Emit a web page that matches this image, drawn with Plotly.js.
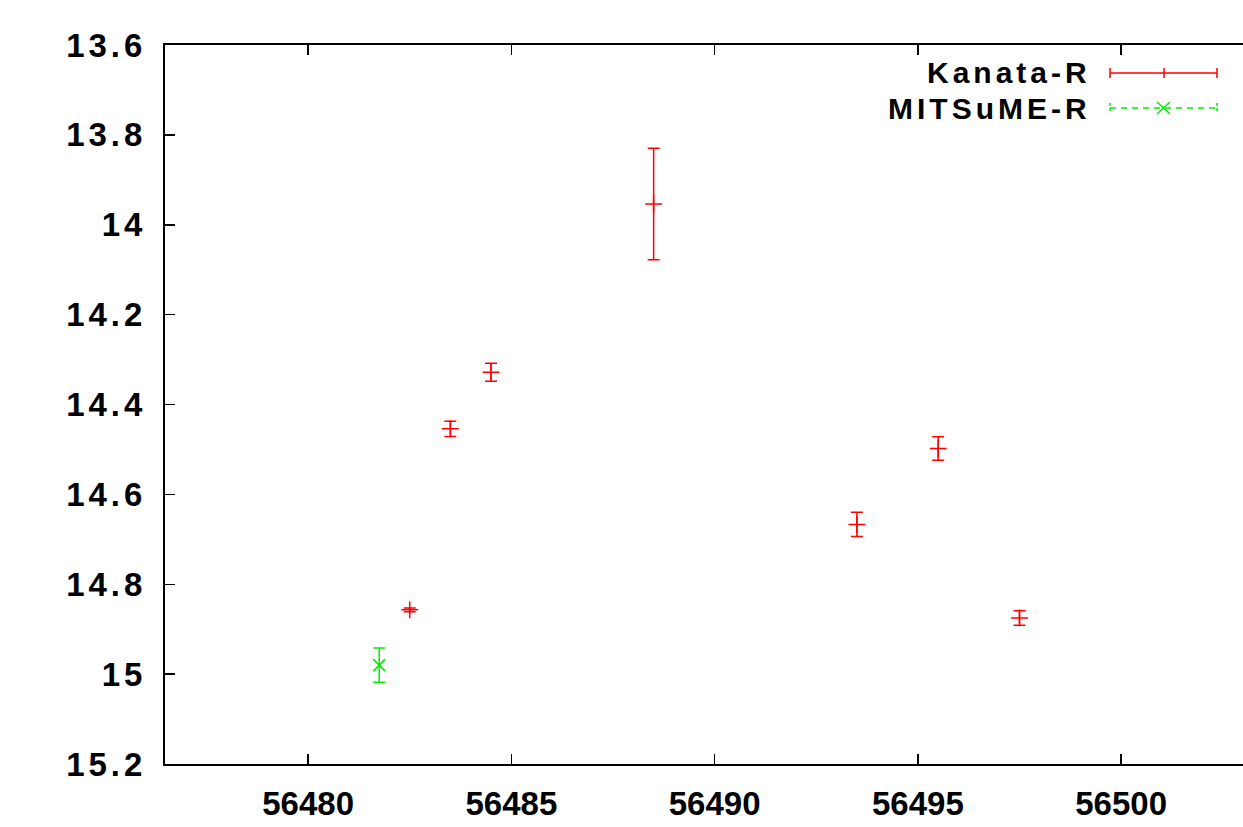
<!DOCTYPE html>
<html>
<head>
<meta charset="utf-8">
<script src="https://cdn.plot.ly/plotly-3.0.1.min.js"></script>
<style>
html,body{margin:0;padding:0;overflow:hidden;background:#fff;width:1243px;height:827px;}
#chart{width:1300px;height:827px;}
.ytick text{letter-spacing:4px;}
.annotation-text{letter-spacing:4px;}
</style>
</head>
<body>
<div id="chart"></div>
<script>
// Data
const kanataMJD = [56482.5, 56483.5, 56484.5, 56488.5, 56493.5, 56495.5, 56497.5];
const kanataMag = [14.857, 14.454, 14.328, 13.954, 14.667, 14.498, 14.875];
const kanataErr = [0.004, 0.017, 0.020, 0.124, 0.027, 0.026, 0.016];

const mitsumeMJD = [56481.75];
const mitsumeMag = [14.980];
const mitsumeErr = [0.038];

const seriesNames = ["Kanata-R", "MITSuME-R"];
const xTicks = [56480, 56485, 56490, 56495, 56500];
const yTicks = [13.6, 13.8, 14, 14.2, 14.4, 14.6, 14.8, 15, 15.2];

const RED = "#ff0000";
const GREEN = "#00ee00";
const FONT = "Liberation Sans, Arial, sans-serif";

const traces = [
  {
    x: kanataMJD, y: kanataMag, name: seriesNames[0], type: "scatter", mode: "markers",
    marker: {symbol: "cross-thin", size: 12, line: {color: RED, width: 1.5}, color: RED},
    error_y: {type: "data", array: kanataErr, visible: true, color: RED, thickness: 1.5, width: 6},
    showlegend: false, cliponaxis: false
  },
  {
    x: mitsumeMJD, y: mitsumeMag, name: seriesNames[1], type: "scatter", mode: "markers",
    marker: {symbol: "x-thin", size: 12, line: {color: GREEN, width: 1.5}, color: GREEN},
    error_y: {type: "data", array: mitsumeErr, visible: true, color: GREEN, thickness: 1.5, width: 6},
    showlegend: false, cliponaxis: false
  }
];

// legend drawn to match gnuplot style (text right, sample to the right)
const plotL = 165, plotW = 1098, plotT = 45, plotH = 719;
const px = v => (v - plotL) / plotW;
const py = v => 1 - (v - plotT) / plotH;

const shapes = [
  {type: "line", xref: "paper", yref: "paper", x0: px(1110), x1: px(1217), y0: py(73), y1: py(73), line: {color: RED, width: 1.5}},
  {type: "line", xref: "paper", yref: "paper", x0: px(1110), x1: px(1110), y0: py(68), y1: py(78), line: {color: RED, width: 1.5}},
  {type: "line", xref: "paper", yref: "paper", x0: px(1217), x1: px(1217), y0: py(68), y1: py(78), line: {color: RED, width: 1.5}},
  {type: "line", xref: "paper", yref: "paper", x0: px(1164), x1: px(1164), y0: py(68), y1: py(78), line: {color: RED, width: 1.5}},
  {type: "line", xref: "paper", yref: "paper", x0: px(1110), x1: px(1217), y0: py(108), y1: py(108), line: {color: GREEN, width: 1.5, dash: "6px,5px"}},
  {type: "line", xref: "paper", yref: "paper", x0: px(1110), x1: px(1110), y0: py(103), y1: py(113), line: {color: GREEN, width: 1.5, dash: "3px,2px"}},
  {type: "line", xref: "paper", yref: "paper", x0: px(1217), x1: px(1217), y0: py(103), y1: py(113), line: {color: GREEN, width: 1.5, dash: "3px,2px"}},
  {type: "line", xref: "paper", yref: "paper", x0: px(1157), x1: px(1170), y0: py(102), y1: py(114), line: {color: GREEN, width: 1.5}},
  {type: "line", xref: "paper", yref: "paper", x0: px(1157), x1: px(1170), y0: py(114), y1: py(102), line: {color: GREEN, width: 1.5}}
];

const annotations = [
  {xref: "paper", yref: "paper", x: px(1092), y: py(73), text: seriesNames[0], showarrow: false,
   xanchor: "right", yanchor: "middle", borderpad: 0,
   font: {family: FONT, size: 30, color: "#000", weight: "bold"}},
  {xref: "paper", yref: "paper", x: px(1092), y: py(108), text: seriesNames[1], showarrow: false,
   xanchor: "right", yanchor: "middle", borderpad: 0,
   font: {family: FONT, size: 30, color: "#000", weight: "bold"}}
];

const layout = {
  width: 1300, height: 827,
  margin: {l: 165, r: 37, t: 45, b: 63},
  paper_bgcolor: "#fff", plot_bgcolor: "#fff",
  showlegend: false,
  font: {family: FONT, size: 33, color: "#000", weight: "bold"},
  xaxis: {
    range: [56476.48, 56503.49], tickvals: xTicks, ticktext: xTicks.map(String),
    ticks: "inside", ticklen: 10, tickwidth: 1.5, tickcolor: "#000",
    showline: true, linecolor: "#000", linewidth: 2, mirror: "ticks",
    showgrid: false, zeroline: false, ticklabelstandoff: 9,
    tickfont: {family: FONT, size: 33, color: "#000", weight: "bold"}
  },
  yaxis: {
    range: [15.2, 13.6], tickvals: yTicks, ticktext: yTicks.map(v => String(v)),
    ticks: "inside", ticklen: 10, tickwidth: 1.5, tickcolor: "#000",
    showline: true, linecolor: "#000", linewidth: 2, mirror: "ticks",
    showgrid: false, zeroline: false, ticklabelstandoff: 10,
    tickfont: {family: FONT, size: 33, color: "#000", weight: "bold"}
  },
  shapes: shapes,
  annotations: annotations
};

Plotly.newPlot("chart", traces, layout, {staticPlot: true, displayModeBar: false});
</script>
</body>
</html>
